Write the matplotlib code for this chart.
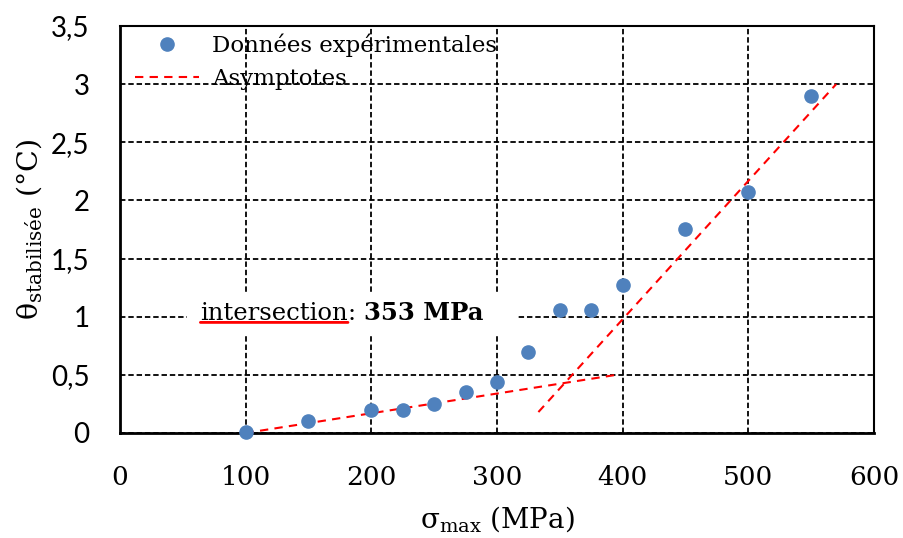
import matplotlib
matplotlib.use("Agg")
import matplotlib.pyplot as plt
from matplotlib.patches import Rectangle
from matplotlib.ticker import FuncFormatter

# measured points
sigma_max = [100, 150, 200, 225, 250, 275, 300, 325, 350, 375, 400, 450, 500, 550]
theta_stab = [0.01, 0.10, 0.20, 0.20, 0.25, 0.35, 0.44, 0.70, 1.06, 1.06, 1.27, 1.75, 2.07, 2.90]

# asymptotes (end points)
asym_low_x = [100, 395]
asym_low_y = [0.0, 0.50]
asym_high_x = [333, 570]
asym_high_y = [0.18, 3.00]

intersection_label = "353 MPa"

serif = "DejaVu Serif"
plt.rcParams["mathtext.fontset"] = "dejavuserif"

fig = plt.figure(figsize=(9.04, 5.38), dpi=100)
ax = fig.add_axes([0.1327, 0.1952, 0.834, 0.7565])

ax.set_xlim(0, 600)
ax.set_ylim(0, 3.5)
ax.set_xticks(range(0, 601, 100))
ax.set_yticks([i * 0.5 for i in range(8)])
ax.yaxis.set_major_formatter(FuncFormatter(lambda v, p: ("%g" % v).replace(".", ",")))
ax.grid(True, color="black", linestyle=(0, (3, 1.6)), linewidth=1.3)
ax.set_axisbelow(True)
ax.tick_params(axis="x", length=0, labelsize=19, pad=23)
ax.tick_params(axis="y", length=0, labelsize=20, pad=22)
for lab in ax.get_xticklabels():
    lab.set_family(serif)
for lab in ax.get_yticklabels():
    lab.set_family("Lato")

for s in ["left", "bottom"]:
    ax.spines[s].set_linewidth(2)
for s in ["top", "right"]:
    ax.spines[s].set_linewidth(1.5)

ax.plot(asym_low_x, asym_low_y, color="red", linestyle=(0, (4, 3)), lw=1.5,
        label="Asymptotes", zorder=3)
ax.plot(asym_high_x, asym_high_y, color="red", linestyle=(0, (4, 3)), lw=1.5, zorder=3)
ax.plot(sigma_max, theta_stab, "o", color="#4F81BD", markersize=9.5,
        label="Données expérimentales", zorder=4, clip_on=False)

h, l = ax.get_legend_handles_labels()
ax.legend(h[::-1], l[::-1], loc="upper left", bbox_to_anchor=(0.005, 1.01), frameon=False,
          prop={"family": serif, "size": 16.5}, handlelength=2.8, handletextpad=0.55,
          labelspacing=0.5, borderaxespad=0.2, borderpad=0.3)

# white label box with annotation
ax.add_patch(Rectangle((53, 0.83), 262, 0.385, facecolor="white", edgecolor="none", zorder=2.5))
t1 = ax.text(64, 1.03, "intersection", family=serif, fontsize=17.5, va="center", zorder=5)
t2 = ax.annotate(": ", xy=(1, 0), xycoords=t1, va="bottom", ha="left",
                 family=serif, fontsize=17.5, zorder=5)
ax.annotate(intersection_label, xy=(1, 0), xycoords=t2, va="bottom", ha="left",
            family=serif, fontsize=17.5, fontweight="bold", zorder=5)
ax.annotate("", xy=(0, 0.1), xycoords=t1, xytext=(1, 0.1), textcoords=t1,
            arrowprops=dict(arrowstyle="-", color="red", lw=2, shrinkA=0, shrinkB=0), zorder=5)

ax.set_xlabel(r"$\mathrm{σ_{max}}$ (MPa)", family=serif, fontsize=20, labelpad=10)
ax.set_ylabel(r"$\mathrm{θ_{stabilisée}}$ (°C)", family=serif, fontsize=20.5, labelpad=5)

fig.savefig("out.png", dpi=100)
